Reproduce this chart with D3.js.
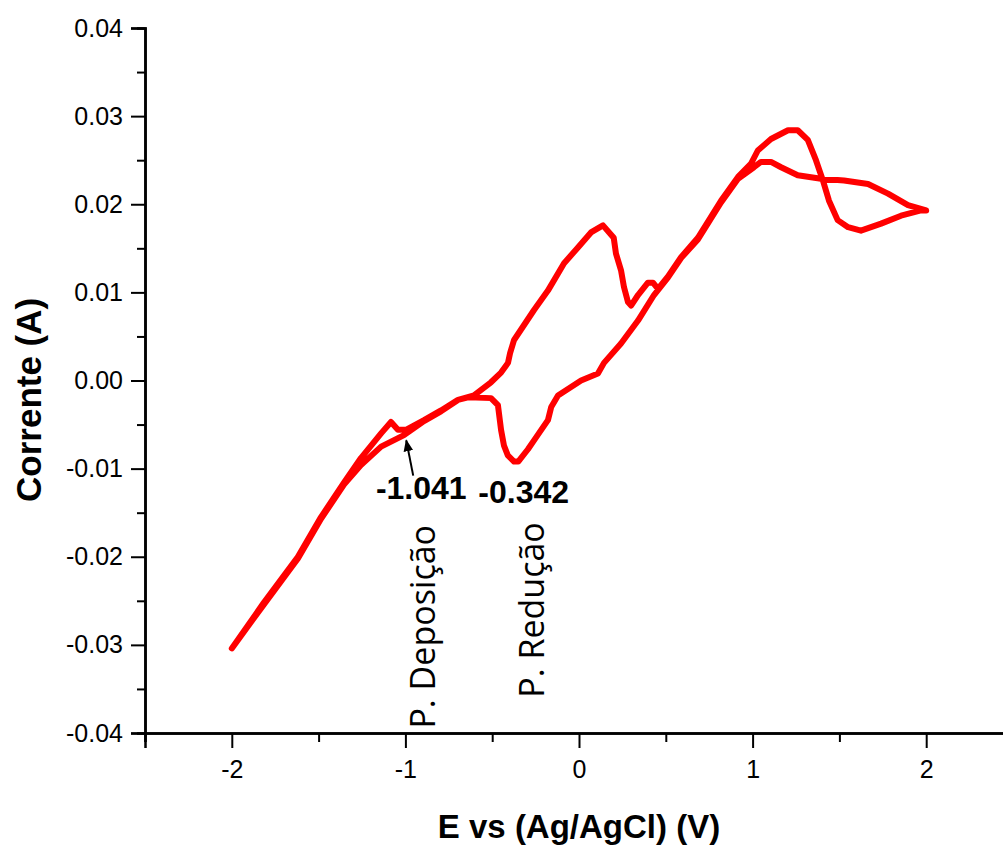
<!DOCTYPE html>
<html>
<head>
<meta charset="utf-8">
<script src="https://cdn.jsdelivr.net/npm/d3@7"></script>
<style>
  html, body { margin: 0; padding: 0; background: #fff; }
  svg { display: block; }
</style>
</head>
<body>
<div id="chart"></div>
<script>
// cyclic voltammogram: E (V) and I (A)
const potential = [
  -2.0, -1.815, -1.619, -1.486, -1.354, -1.256, -1.14, -1.083, -1.043, -0.997,
  -0.893, -0.795, -0.697, -0.605, -0.507, -0.449, -0.409, -0.397, -0.374, -0.259,
  -0.179, -0.086, -0.006, 0.069, 0.138, 0.2, 0.213, 0.242, 0.259, 0.282,
  0.3, 0.34, 0.397, 0.426, 0.455, 0.513, 0.588, 0.685, 0.818, 0.916,
  0.991, 1.03, 1.106, 1.204, 1.26, 1.318, 1.365, 1.405, 1.44, 1.49,
  1.55, 1.624, 1.74, 1.855, 1.97, 2.0,
  1.895, 1.78, 1.665, 1.527, 1.394, 1.26, 1.164, 1.106, 1.048, 1.008,
  0.916, 0.818, 0.685, 0.588, 0.513, 0.432, 0.34, 0.242, 0.144, 0.109,
  0.012, -0.121, -0.16, -0.179, -0.259, -0.294, -0.35, -0.374, -0.41, -0.432,
  -0.449, -0.467, -0.507, -0.639, -0.697, -0.795, -0.893, -1.008, -1.14, -1.256,
  -1.354, -1.486, -1.619, -1.815, -2.0
];
const current = [
  -0.0304, -0.0252, -0.0200, -0.0155, -0.0116, -0.0088, -0.0060, -0.0047, -0.0056, -0.0056,
  -0.0045, -0.0034, -0.0022, -0.0017, -0.0002, 0.0009, 0.0020, 0.0031, 0.0046, 0.0080,
  0.0102, 0.0133, 0.0151, 0.0168, 0.0176, 0.0162, 0.0144, 0.0125, 0.0106, 0.0089,
  0.0085, 0.0097, 0.0111, 0.0111, 0.0104, 0.0118, 0.0140, 0.0162, 0.0204, 0.0231,
  0.0246, 0.0261, 0.0274, 0.0284, 0.0284, 0.0273, 0.0250, 0.0227, 0.0204, 0.0182,
  0.0174, 0.0170, 0.0178, 0.0187, 0.0193, 0.0193,
  0.0199, 0.0212, 0.0223, 0.0227, 0.0229, 0.0233, 0.0242, 0.0248, 0.0248, 0.0242,
  0.0229, 0.0202, 0.0160, 0.0139, 0.0117, 0.0097, 0.0068, 0.0042, 0.0020, 0.0008,
  0.0000, -0.0017, -0.0030, -0.0045, -0.0068, -0.0078, -0.0092, -0.0092, -0.0085, -0.0074,
  -0.0056, -0.0028, -0.0020, -0.0019, -0.0022, -0.0035, -0.0046, -0.0062, -0.0075, -0.0096,
  -0.0118, -0.0157, -0.0202, -0.0254, -0.0304
];

const xTicks = [-2, -1, 0, 1, 2];
const xMinor = [-2.5, -1.5, -0.5, 0.5, 1.5, 2.5];
const yTicks = [-0.04, -0.03, -0.02, -0.01, 0.00, 0.01, 0.02, 0.03, 0.04];
const yMinor = [-0.035, -0.025, -0.015, -0.005, 0.005, 0.015, 0.025, 0.035];

const peakValues = ["-1.041", "-0.342"];
const peakNames = ["P. Deposição", "P. Redução"];

const width = 1003, height = 845;
const x = d3.scaleLinear().domain([-2.5, 2.5]).range([145, 1013]);
const y = d3.scaleLinear().domain([-0.04, 0.04]).range([733, 28]);

const svg = d3.select("#chart").append("svg")
  .attr("width", width)
  .attr("height", height);

// axes
svg.append("g")
  .attr("transform", `translate(0, ${y(-0.04)})`)
  .call(d3.axisBottom(x).tickValues(xTicks).tickSize(15).tickPadding(12)
        .tickFormat(d => String(d)));
svg.append("g")
  .attr("transform", `translate(0, ${y(-0.04)})`)
  .call(d3.axisBottom(x).tickValues(xMinor).tickSize(9).tickFormat(""));

svg.append("g")
  .attr("transform", `translate(${x(-2.5)}, 0)`)
  .call(d3.axisLeft(y).tickValues(yTicks).tickSize(14).tickPadding(8)
        .tickFormat(d => d.toFixed(2)));
svg.append("g")
  .attr("transform", `translate(${x(-2.5)}, 0)`)
  .call(d3.axisLeft(y).tickValues(yMinor).tickSize(8).tickFormat(""));

svg.selectAll(".domain").attr("stroke", "#000").attr("stroke-width", 2.5);
svg.selectAll(".tick line").attr("stroke", "#000").attr("stroke-width", 2);
svg.selectAll(".tick text")
  .attr("fill", "#000")
  .style("font-family", "'Liberation Sans', Arial, sans-serif")
  .style("font-size", "25px");

// the scan
const pts = potential.map((e, i) => [e, current[i]]);
svg.append("path")
  .datum(pts)
  .attr("fill", "none")
  .attr("stroke", "#ff0000")
  .attr("stroke-width", 6)
  .attr("stroke-linejoin", "round")
  .attr("stroke-linecap", "round")
  .attr("d", d3.line().x(d => x(d[0])).y(d => y(d[1])));

// axis titles
svg.append("text")
  .attr("x", x(0))
  .attr("y", 838)
  .attr("text-anchor", "middle")
  .style("font-family", "'Liberation Sans', Arial, sans-serif")
  .style("font-weight", "bold")
  .style("font-size", "33px")
  .text("E vs (Ag/AgCl) (V)");

svg.append("text")
  .attr("transform", `translate(41, ${y(-0.0022)}) rotate(-90)`)
  .attr("text-anchor", "middle")
  .style("font-family", "'Liberation Sans', Arial, sans-serif")
  .style("font-weight", "bold")
  .style("font-size", "35px")
  .text("Corrente (A)");

// annotations
svg.append("defs").append("marker")
  .attr("id", "head")
  .attr("viewBox", "0 0 10 10")
  .attr("refX", 9).attr("refY", 5)
  .attr("markerWidth", 6).attr("markerHeight", 6)
  .attr("orient", "auto")
  .append("path").attr("d", "M0,1 L10,5 L0,9 Z").attr("fill", "#000");

svg.append("line")
  .attr("x1", x(-0.955)).attr("y1", y(-0.0108))
  .attr("x2", x(-0.995)).attr("y2", y(-0.0068))
  .attr("stroke", "#000").attr("stroke-width", 2)
  .attr("marker-end", "url(#head)");

const valuePos = [[-1.17, -0.0135], [-0.58, -0.0139]];
svg.selectAll(".peakval")
  .data(peakValues)
  .enter().append("text")
  .attr("class", "peakval")
  .attr("x", (d, i) => x(valuePos[i][0]))
  .attr("y", (d, i) => y(valuePos[i][1]))
  .style("font-family", "'Liberation Sans', Arial, sans-serif")
  .style("font-weight", "bold")
  .style("font-size", "32px")
  .text(d => d);

const namePos = [[-0.83, -0.0395], [-0.2, -0.036]];
svg.selectAll(".peakname")
  .data(peakNames)
  .enter().append("text")
  .attr("class", "peakname")
  .attr("transform", (d, i) => `translate(${x(namePos[i][0])}, ${y(namePos[i][1])}) rotate(-90)`)
  .style("font-family", "'Open Sans', sans-serif")
  .style("font-size", "34px")
  .text(d => d);
</script>
</body>
</html>
